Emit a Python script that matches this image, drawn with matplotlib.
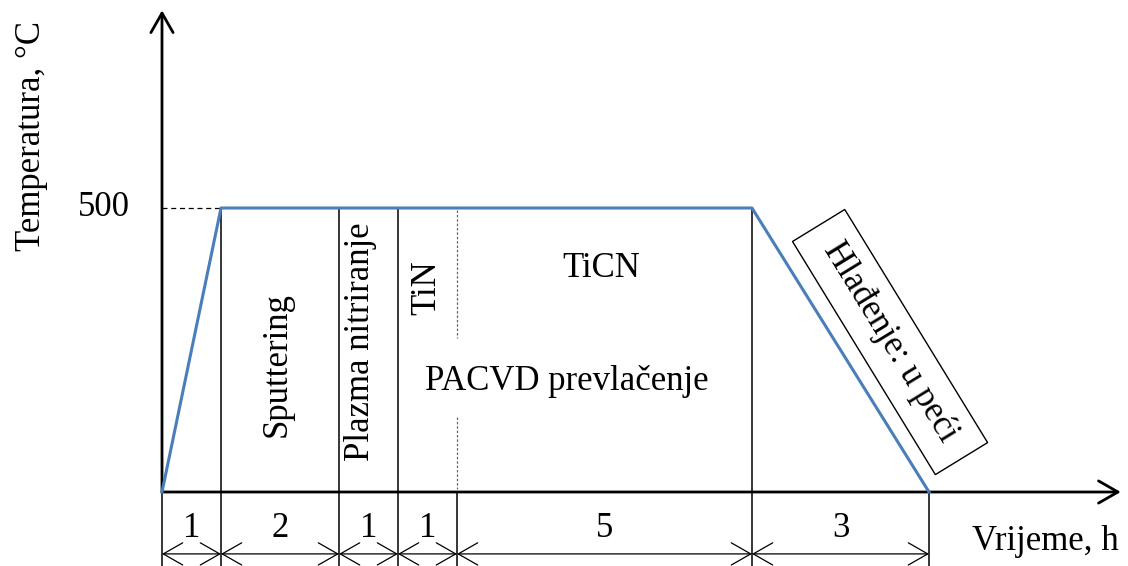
import numpy as np
import matplotlib.pyplot as plt

plt.rcParams['font.family'] = ['Liberation Serif', 'DejaVu Serif']

# process stages (hours) and temperature profile
durations = [1, 2, 1, 1, 5, 3]
profile_t = [0, 1, 10, 13]
profile_T = [0, 500, 500, 0]
T_hold = 500
bounds = np.concatenate([[0], np.cumsum(durations)])   # 0 1 3 4 5 10 13

fig = plt.figure(figsize=(11.28, 5.66), dpi=100)
ax = fig.add_axes([0, 0, 1, 1])
# map data to pixels: origin at (162, 492), 59 px per hour, 0.568 px per degC
ax.set_xlim(-162 / 59, (1128 - 162) / 59)
ax.set_ylim(-(566 - 492) / 0.568, 492 / 0.568)
ax.axis('off')

fs = 25
y_dim = -109     # dimension line level
y_low = -135     # bottom of extension lines

# axes with arrows
axis_arrow = dict(arrowstyle='->,head_length=14,head_width=8', lw=2, color='black',
                  mutation_scale=1, shrinkA=0, shrinkB=0)
ax.annotate('', xy=(0, 848), xytext=(0, 0), arrowprops=axis_arrow)
ax.annotate('', xy=(16.25, 0), xytext=(0, 0), arrowprops=axis_arrow)

# temperature curve
ax.plot(profile_t, profile_T, color='#4a7ebb', lw=2.2, zorder=3)
ax.plot([0, profile_t[1]], [T_hold, T_hold], 'k--', lw=0.9, dashes=(4, 3))
ax.text(-0.54, T_hold, '500', fontsize=fs, ha='right', va='center')

# stage separators above axis
for b in [bounds[1], bounds[2], bounds[3], bounds[5]]:
    ax.plot([b, b], [0, T_hold], color='black', lw=1.1)
ax.plot([bounds[4], bounds[4]], [497, 272], color='black', lw=0.9, ls=(0, (2, 1.5)), alpha=0.6)
ax.plot([bounds[4], bounds[4]], [132, 5], color='black', lw=0.9, ls=(0, (2, 1.5)), alpha=0.6)

# extension lines below axis
for b in bounds:
    ax.plot([b, b], [0, y_low], color='black', lw=1.1)

# dimension arrows and durations
dim_arrow = dict(arrowstyle='<->,head_length=14,head_width=8', lw=0.9, color='black',
                 mutation_scale=1, shrinkA=0, shrinkB=0)
for a, b, d in zip(bounds[:-1], bounds[1:], durations):
    ax.annotate('', xy=(a, y_dim), xytext=(b, y_dim), arrowprops=dim_arrow)
    ax.text((a + b) / 2, -79, str(d), fontsize=fs, ha='center', va='baseline')

# axis titles
ax.text(-2.22, 627, 'Temperatura, °C', fontsize=fs, rotation=90, ha='center', va='center')
ax.text(14.98, -102, 'Vrijeme, h', fontsize=fs, ha='center', va='baseline')

# stage labels
ax.text(1.95, 224, 'Sputtering', fontsize=fs, rotation=90, ha='center', va='center')
ax.text(3.36, 264, 'Plazma nitriranje', fontsize=fs, rotation=90, ha='center', va='center')
ax.text(4.49, 359, 'TiN', fontsize=fs, rotation=90, ha='center', va='center')
ax.text(7.44, 378, 'TiCN', fontsize=fs, ha='center', va='baseline')
ax.text(6.86, 180, 'PACVD prevlačenje', fontsize=fs, ha='center', va='baseline')
ax.text(12.34, 264, ' Hlađenje: u peći ', fontsize=fs, rotation=-58.5,
        rotation_mode='anchor', ha='center', va='center',
        bbox=dict(boxstyle='square,pad=0.4', fc='white', ec='black', lw=1))

fig.savefig('out.png', dpi=100)
